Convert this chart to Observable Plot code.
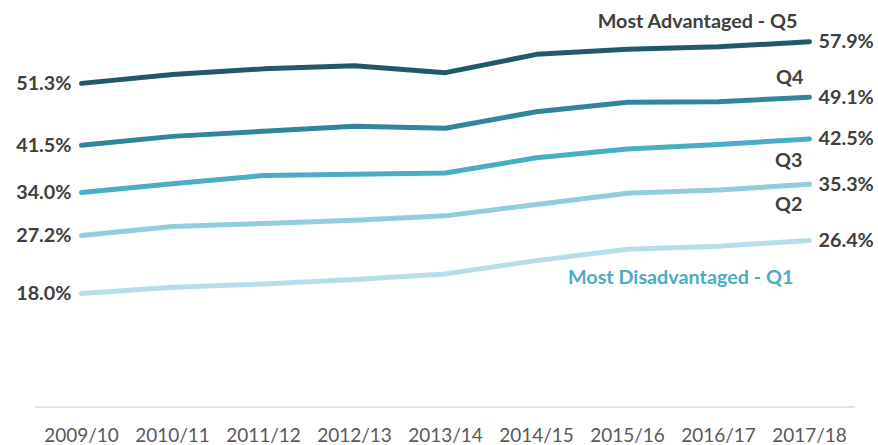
<!DOCTYPE html>
<html>
<head>
<meta charset="utf-8">
<script src="https://cdn.jsdelivr.net/npm/d3@7"></script>
<script src="https://cdn.jsdelivr.net/npm/@observablehq/plot@0.6"></script>
<style>
  html, body { margin: 0; padding: 0; background: #ffffff; }
  #chart svg { display: block; }
</style>
</head>
<body>
<div id="chart"></div>
<script>
// ---- Data ----
const years = ["2009/10", "2010/11", "2011/12", "2012/13", "2013/14", "2014/15", "2015/16", "2016/17", "2017/18"];
const seriesNames = ["Most Disadvantaged - Q1", "Q2", "Q3", "Q4", "Most Advantaged - Q5"];
const q1 = [18.0, 19.0, 19.5, 20.2, 21.1, 23.2, 25.0, 25.5, 26.4];
const q2 = [27.2, 28.6, 29.1, 29.6, 30.3, 32.1, 33.9, 34.4, 35.3];
const q3 = [34.0, 35.4, 36.7, 36.9, 37.1, 39.5, 40.9, 41.6, 42.5];
const q4 = [41.5, 42.9, 43.7, 44.5, 44.2, 46.8, 48.3, 48.4, 49.1];
const q5 = [51.3, 52.7, 53.6, 54.1, 53.0, 55.9, 56.7, 57.1, 57.9];

// ---- Styling (kept separate from data) ----
const seriesColors = ["#B7DEE8", "#92CDDC", "#4BACC6", "#31859C", "#215967"];
const nameFill = ["#4BACC6", "#404040", "#404040", "#404040", "#404040"];
const nameOffsets = [[-16, 37], [-7, 20], [-7, 22], [-6, -20], [-12, -20]];
const FONT = "Lato, 'Open Sans', sans-serif";
const BOLD_SIZE = 19.8;

const allValues = [q1, q2, q3, q4, q5];
const rows = [];
allValues.forEach((vals, si) => {
  vals.forEach((v, i) => rows.push({series: seriesNames[si], year: years[i], value: v}));
});
const firsts = allValues.map((vals, si) => ({series: seriesNames[si], year: years[0], value: vals[0]}));
const lasts = allValues.map((vals, si) => ({series: seriesNames[si], year: years[years.length - 1], value: vals[vals.length - 1]}));
const fmt = d => d.value.toFixed(1) + "%";

const nameMarks = lasts.map((d, si) => Plot.text([d], {
  x: "year", y: "value", text: "series",
  textAnchor: "end", lineAnchor: "middle",
  dx: nameOffsets[si][0], dy: nameOffsets[si][1],
  fill: nameFill[si], fontWeight: "bold", fontSize: BOLD_SIZE
}));

const chart = Plot.plot({
  width: 878,
  height: 445,
  marginLeft: 35,
  marginRight: 23,
  marginTop: 28,
  marginBottom: 38.5,
  style: {fontFamily: FONT, background: "#ffffff", overflow: "visible"},
  x: {type: "point", domain: years, padding: 0.5, axis: null},
  y: {domain: [0, 60], axis: null},
  color: {domain: seriesNames, range: seriesColors},
  marks: [
    Plot.ruleY([0], {stroke: "#D9D9D9", strokeWidth: 1.5}),
    Plot.lineY(rows, {
      x: "year", y: "value", z: "series", stroke: "series",
      strokeWidth: 5, strokeLinecap: "round", strokeLinejoin: "round"
    }),
    Plot.text(firsts, {
      x: "year", y: "value", text: fmt,
      textAnchor: "end", lineAnchor: "middle", dx: -10,
      fill: "#404040", fontWeight: "bold", fontSize: BOLD_SIZE
    }),
    Plot.text(lasts, {
      x: "year", y: "value", text: fmt,
      textAnchor: "start", lineAnchor: "middle", dx: 9,
      fill: "#404040", fontWeight: "bold", fontSize: BOLD_SIZE
    }),
    ...nameMarks,
    Plot.text(years, {
      x: d => d, frameAnchor: "bottom", text: d => d,
      lineAnchor: "middle", dy: 28.5,
      fill: "#595959", fontSize: 19
    })
  ]
});
document.getElementById("chart").appendChild(chart);
</script>
</body>
</html>
